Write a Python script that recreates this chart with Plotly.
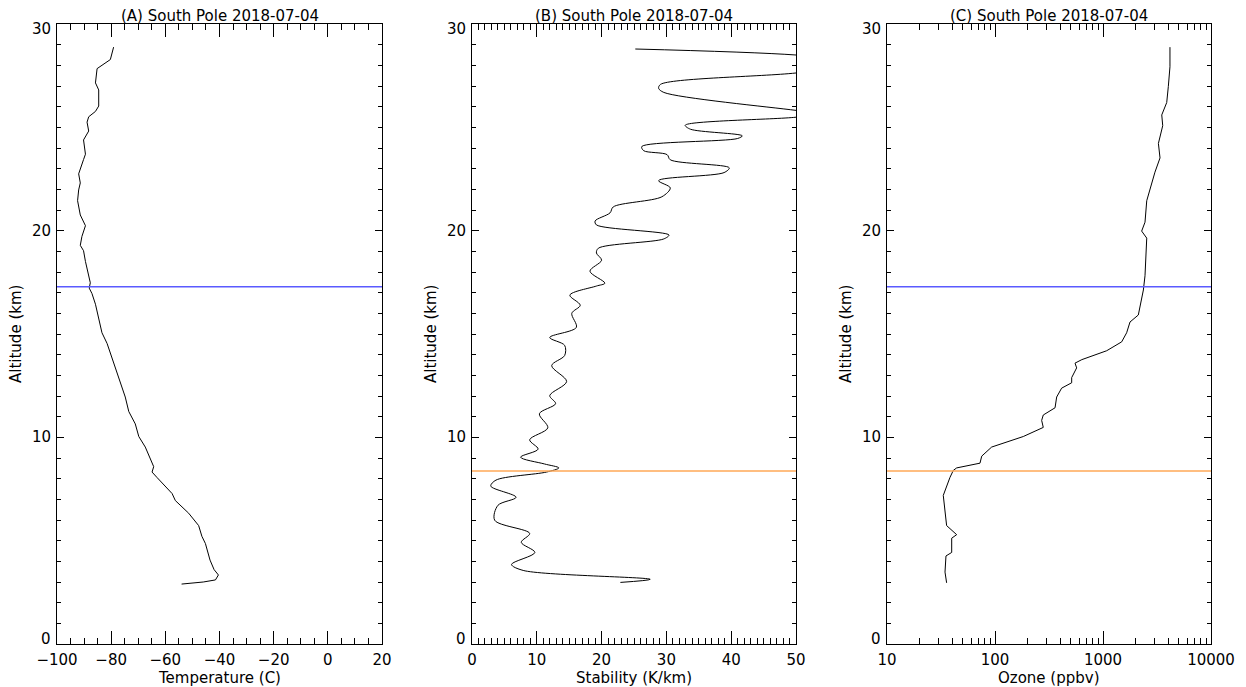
import plotly.graph_objects as go

# ---------------- data ----------------
temp_alt = [28.88, 28.28, 27.84, 27.15, 26.81, 26.03, 25.77, 25.51, 25.25, 24.82, 24.39, 23.70,
            23.44, 23.18, 22.75, 22.31, 21.97, 21.45, 20.76, 20.24, 19.72, 19.29, 19.03, 18.51,
            17.82, 17.48, 17.22, 16.96, 16.44, 15.75, 15.06, 14.54, 13.85, 13.16, 12.46, 11.95,
            11.25, 10.65, 10.04, 9.53, 8.58, 8.32, 8.06, 7.28, 6.94, 6.33, 5.73, 5.21, 4.86,
            4.06, 3.60, 3.34, 3.10, 3.00, 2.90]
temp_c = [-79.1, -80.3, -85.2, -85.8, -84.6, -84.6, -85.8, -88.3, -88.9, -88.3, -90.2, -89.5,
          -90.2, -90.8, -92.0, -91.4, -92.0, -92.4, -91.4, -89.5, -90.8, -91.4, -90.2, -89.5,
          -88.3, -87.7, -88.1, -87.1, -85.8, -84.6, -83.4, -81.5, -79.7, -77.8, -76.0, -74.8,
          -73.5, -71.1, -69.8, -67.4, -64.3, -64.9, -63.1, -57.5, -56.3, -51.4, -47.7, -46.5,
          -45.2, -43.5, -42.0, -40.4, -41.5, -46.0, -54.0]

stab_alt = [28.79, 28.50, 28.10, 27.63, 27.08, 26.89, 26.69, 25.82, 25.66, 25.49, 25.10, 24.91,
            24.59, 24.46, 24.07, 23.87, 23.68, 23.43, 23.04, 22.81, 22.42, 22.07, 21.64, 21.15,
            20.86, 20.47, 20.28, 19.79, 19.60, 19.15, 18.92, 18.57, 18.04, 17.46, 17.32, 16.88,
            16.39, 16.00, 15.32, 14.83, 14.45, 13.96, 13.47, 12.70, 12.02, 11.63, 11.14, 10.46,
            9.88, 9.43, 9.04, 8.71, 8.52, 8.32, 7.93, 7.64, 7.10, 6.71, 5.99, 5.35, 4.92, 4.43,
            3.85, 3.56, 3.13, 2.98]
stab_kkm = [25.2, 50.0, 62.0, 50.0, 29.1, 28.8, 29.6, 50.0, 54.0, 50.0, 32.9, 33.7,
            41.7, 41.0, 26.2, 26.5, 30.1, 30.6, 39.7, 38.9, 28.8, 30.6, 29.3, 21.8,
            21.3, 19.0, 19.2, 30.4, 29.6, 19.5, 19.2, 20.0, 18.2, 20.5, 19.2, 15.1,
            16.7, 15.4, 16.1, 12.0, 14.3, 14.3, 12.3, 14.6, 12.0, 12.9, 10.4, 11.7,
            8.9, 10.2, 7.5, 11.2, 13.4, 11.5, 3.7, 2.9, 6.8, 4.0, 3.5, 8.9, 7.6, 9.7,
            6.1, 7.9, 27.5, 22.9]

ozone_alt = [28.88, 27.93, 26.98, 26.20, 25.60, 25.08, 24.22, 23.52, 22.83, 22.31, 21.45, 20.41,
             19.98, 19.64, 18.86, 17.82, 17.13, 15.92, 15.58, 15.06, 14.62, 14.19, 13.76, 13.59,
             13.36, 12.89, 12.64, 12.38, 11.95, 11.43, 11.08, 10.82, 10.48, 10.04, 9.53, 9.09,
             8.75, 8.52, 8.40, 8.06, 7.19, 6.42, 5.73, 5.29, 5.12, 4.43, 4.26, 3.48, 2.96]
ozone_log10 = [3.620, 3.620, 3.605, 3.590, 3.544, 3.553, 3.513, 3.528, 3.481, 3.451, 3.405, 3.389,
               3.358, 3.405, 3.396, 3.389, 3.374, 3.327, 3.250, 3.219, 3.173, 3.034, 2.804, 2.741,
               2.756, 2.710, 2.710, 2.617, 2.571, 2.556, 2.447, 2.432, 2.447, 2.262, 1.969, 1.877,
               1.861, 1.645, 1.614, 1.583, 1.521, 1.537, 1.552, 1.645, 1.599, 1.599, 1.546, 1.537,
               1.552]
ozone_ppbv = [10 ** v for v in ozone_log10]

tropopause_thermal_km = 8.37   # orange line
tropopause_ozone_km = 17.29    # blue line

titles = ["(A) South Pole 2018-07-04", "(B) South Pole 2018-07-04", "(C) South Pole 2018-07-04"]
x_titles = ["Temperature (C)", "Stability (K/km)", "Ozone (ppbv)"]
y_title = "Altitude (km)"
alt_tickvals = [0, 10, 20, 30]
alt_ticktext = ["0", "10", "20", "30"]
ozone_tickvals = [10, 100, 1000, 10000]
ozone_ticktext = ["10", "100", "1000", "10000"]
ozone_minor = [m * d for d in (10, 100, 1000) for m in range(2, 10)]

# ---------------- figure ----------------
W, H = 1246, 687
FONT = "DejaVu Sans"
FS = 15
BLUE = "#5a5aff"
ORANGE = "#ffa857"

doms = [(57 / W, 382 / W), (472 / W, 796 / W), (887 / W, 1211 / W)]
ydom = ((H - 644) / H, (H - 24) / H)

fig = go.Figure()
line = dict(color="black", width=1)
fig.add_trace(go.Scatter(x=temp_c, y=temp_alt, mode="lines", line=line, xaxis="x", yaxis="y"))
fig.add_trace(go.Scatter(x=stab_kkm, y=stab_alt, mode="lines",
                         line=dict(color="black", width=1, shape="spline", smoothing=0.9),
                         xaxis="x2", yaxis="y2"))
fig.add_trace(go.Scatter(x=ozone_ppbv, y=ozone_alt, mode="lines", line=line, xaxis="x3", yaxis="y3"))

# horizontal reference lines
for xa, ya, color, alt in [("x", "y", BLUE, tropopause_ozone_km),
                           ("x2", "y2", ORANGE, tropopause_thermal_km),
                           ("x3", "y3", BLUE, tropopause_ozone_km),
                           ("x3", "y3", ORANGE, tropopause_thermal_km)]:
    fig.add_shape(type="line", xref=f"{xa} domain", yref=ya, x0=0, x1=1, y0=alt, y1=alt,
                  line=dict(color=color, width=1.5))

tickfont = dict(family=FONT, size=FS, color="black")
common_x = dict(showline=True, linecolor="black", linewidth=1, mirror="ticks", ticks="inside",
                tickcolor="black", tickwidth=1, ticklen=13, showgrid=False, zeroline=False,
                tickfont=tickfont, automargin=False, ticklabelstandoff=2)
common_y = dict(showline=True, linecolor="black", linewidth=1, mirror="ticks", ticks="inside",
                tickcolor="black", tickwidth=1, ticklen=7, showgrid=False, zeroline=False,
                showticklabels=False, automargin=False,
                range=[0, 30], tickmode="array", tickvals=alt_tickvals, domain=list(ydom),
                minor=dict(ticks="inside", ticklen=4, dtick=1, tick0=0, tickcolor="black", showgrid=False))

layout = dict(width=W, height=H, margin=dict(l=0, r=0, t=0, b=0, autoexpand=False), showlegend=False,
              paper_bgcolor="white", plot_bgcolor="white",
              font=dict(family=FONT, size=FS, color="black"))

x_specs = [
    dict(range=[-100, 20], dtick=20, tick0=-100,
         minor=dict(ticks="inside", ticklen=6, dtick=5, tickcolor="black", showgrid=False)),
    dict(range=[0, 50], dtick=10, tick0=0,
         minor=dict(ticks="inside", ticklen=6, dtick=1, tickcolor="black", showgrid=False)),
    dict(type="log", range=[1, 4], tickmode="array", tickvals=ozone_tickvals, ticktext=ozone_ticktext,
         minor=dict(ticks="inside", ticklen=6, tickmode="array", tickvals=ozone_minor,
                    tickcolor="black", showgrid=False)),
]
names = ["", "2", "3"]
for i, n in enumerate(names):
    xa = dict(common_x)
    xa.update(x_specs[i])
    xa["domain"] = list(doms[i])
    xa["anchor"] = "y" + n
    layout["xaxis" + n] = xa
    ya = dict(common_y)
    ya["anchor"] = "x" + n
    layout["yaxis" + n] = ya

fig.update_layout(**layout)

for i, n in enumerate(names):
    cx = (doms[i][0] + doms[i][1]) / 2
    # panel title
    fig.add_annotation(text=titles[i], xref="paper", yref="paper", x=cx, y=(H - 16) / H,
                       xanchor="center", yanchor="middle", showarrow=False, font=tickfont)
    # x axis title
    fig.add_annotation(text=x_titles[i], xref="paper", yref="paper", x=cx, y=(H - 678) / H,
                       xanchor="center", yanchor="middle", showarrow=False, font=tickfont)
    # y axis title
    fig.add_annotation(text=y_title, xref=f"x{n} domain", yref="paper", x=0, y=(ydom[0] + ydom[1]) / 2,
                       xanchor="center", yanchor="middle", xshift=-41, textangle=-90,
                       showarrow=False, font=tickfont)
    # y tick labels (end labels pulled inward as in the original)
    for v, t in zip(alt_tickvals, alt_ticktext):
        shift = 5 if v == alt_tickvals[0] else (-5 if v == alt_tickvals[-1] else 0)
        fig.add_annotation(text=t, xref=f"x{n} domain", yref="y" + n, x=0, y=v,
                           xanchor="right", yanchor="middle", xshift=-4, yshift=shift,
                           showarrow=False, font=tickfont)

fig.write_html("out.html")
